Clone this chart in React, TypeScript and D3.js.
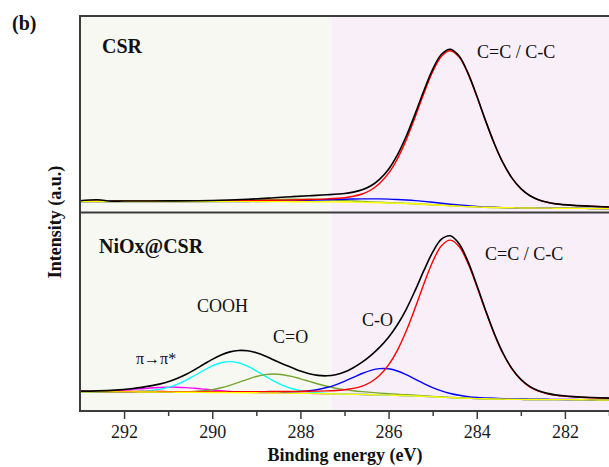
import React, { useEffect, useRef } from 'react';
import * as d3 from 'd3';

// C 1s spectra, binding energy in eV, intensity in a.u.
// CSR (top panel)
const energyCsr = [293, 292.6, 292.3, 292, 291, 290, 289.2, 288.6, 288.2, 287.8, 287.4, 287.0, 286.8, 286.6, 286.4, 286.2, 286.0, 285.8, 285.6, 285.4, 285.2, 285.0, 284.8, 284.6, 284.4, 284.2, 284.0, 283.8, 283.6, 283.4, 283.2, 283.0, 282.8, 282.6, 282.4, 282.2, 281.8, 281.4, 281.0];
const csrBackground = [10.5, 10.5, 10.5, 10.5, 10.5, 10.5, 10.4, 10.4, 10.3, 10.3, 10.2, 10.0, 9.9, 9.7, 9.5, 9.3, 9.1, 8.8, 8.5, 8.2, 7.8, 7.3, 6.8, 6.3, 5.9, 5.4, 5.1, 4.7, 4.5, 4.3, 4.2, 4.0, 4.0, 3.9, 3.9, 3.8, 3.7, 3.5, 3.3];
const csrCC = [10.8, 10.9, 10.9, 11.0, 11.1, 11.3, 11.5, 11.8, 12.0, 12.5, 13.1, 14.3, 15.7, 18.0, 22.0, 28.7, 38.8, 53.2, 72.1, 94.6, 118.4, 140.2, 155.8, 161.3, 154.9, 138.3, 115.7, 91.1, 68.1, 48.7, 33.9, 23.4, 16.5, 12.2, 9.7, 8.1, 6.6, 5.7, 5.0];
const csrCO = [10.5, 10.5, 10.5, 10.5, 10.5, 10.5, 10.5, 10.8, 11.1, 11.7, 12.3, 12.8, 13.0, 13.1, 13.1, 13.1, 12.9, 12.5, 12.0, 11.4, 10.6, 9.7, 8.7, 7.8, 7.0, 6.2, 5.6, 5.0, 4.7, 4.4, 4.2, 4.0, 4.0, 3.9, 3.9, 3.8, 3.7, 3.5, 3.3];
const csrCdO = [10.5, 10.5, 10.5, 10.5, 10.5, 10.7, 11.5, 12.4, 12.8, 12.7, 12.2, 11.4, 11.0, 10.5, 10.1, 9.7, 9.3, 9.0, 8.6, 8.3, 7.8, 7.3, 6.8, 6.3, 5.9, 5.4, 5.1, 4.7, 4.5, 4.3, 4.2, 4.0, 4.0, 3.9, 3.9, 3.8, 3.7, 3.5, 3.3];
const csrEnvelope = [11.2, 12.2, 10.9, 11.0, 11.1, 11.5, 12.7, 14.2, 15.3, 16.3, 17.2, 18.5, 19.9, 22.2, 26.2, 32.9, 42.8, 57.1, 75.7, 97.9, 121.2, 142.6, 157.7, 162.8, 156.0, 139.1, 116.2, 91.4, 68.3, 48.8, 33.9, 23.4, 16.5, 12.2, 9.7, 8.1, 6.6, 5.7, 5.0];

// NiOx@CSR (bottom panel)
const energyNi = [293, 292.6, 292.2, 291.8, 291.6, 291.4, 291.2, 291.0, 290.8, 290.6, 290.4, 290.2, 290.0, 289.8, 289.6, 289.4, 289.2, 289.0, 288.8, 288.6, 288.4, 288.2, 288.0, 287.8, 287.6, 287.4, 287.2, 287.0, 286.8, 286.6, 286.4, 286.2, 286.0, 285.8, 285.6, 285.4, 285.2, 285.0, 284.8, 284.6, 284.4, 284.2, 284.0, 283.8, 283.6, 283.4, 283.2, 283.0, 282.8, 282.6, 282.4, 282.2, 281.8, 281.4, 281.0];
const niBackground = [18.3, 18.2, 18.1, 18.1, 18.0, 18.0, 17.9, 17.9, 17.8, 17.8, 17.7, 17.6, 17.5, 17.5, 17.4, 17.3, 17.3, 17.2, 17.1, 17.0, 16.9, 16.8, 16.7, 16.6, 16.4, 16.2, 16.0, 15.9, 15.7, 15.5, 15.3, 15.1, 14.9, 14.6, 14.3, 14.0, 13.6, 13.2, 12.8, 12.4, 12.0, 11.7, 11.4, 11.2, 11.0, 10.9, 10.7, 10.6, 10.5, 10.5, 10.4, 10.4, 10.3, 10.1, 10.0];
const niCC = [18.7, 18.6, 18.5, 18.5, 18.5, 18.5, 18.5, 18.4, 18.4, 18.4, 18.4, 18.4, 18.3, 18.3, 18.3, 18.3, 18.4, 18.4, 18.4, 18.5, 18.5, 18.6, 18.7, 18.8, 18.9, 19.1, 19.5, 20.3, 21.6, 23.9, 28.0, 34.8, 45.1, 59.7, 78.9, 101.7, 126.0, 148.3, 164.3, 169.9, 163.5, 146.8, 123.8, 98.9, 75.6, 56.0, 40.9, 30.3, 23.2, 18.9, 16.3, 14.8, 13.2, 12.3, 11.8];
const niCO = [18.4, 18.3, 18.2, 18.2, 18.1, 18.1, 18.1, 18.0, 18.0, 18.0, 17.9, 17.9, 17.8, 17.7, 17.7, 17.7, 17.6, 17.7, 17.6, 17.7, 17.8, 18.0, 18.4, 19.2, 20.5, 22.5, 25.2, 28.7, 32.6, 36.5, 39.7, 41.4, 41.2, 39.0, 35.3, 30.9, 26.4, 22.4, 19.1, 16.5, 14.7, 13.4, 12.6, 12.1, 11.7, 11.4, 11.2, 11.0, 10.9, 10.8, 10.7, 10.6, 10.5, 10.3, 10.2];
const niCOOH = [18.3, 18.2, 18.2, 18.4, 18.7, 19.4, 20.6, 22.6, 25.6, 29.6, 34.5, 39.5, 44.1, 47.3, 48.4, 47.1, 43.8, 39.1, 33.9, 28.9, 24.7, 21.5, 19.4, 17.9, 17.1, 16.5, 16.1, 15.9, 15.7, 15.5, 15.3, 15.1, 14.9, 14.6, 14.3, 14.0, 13.6, 13.2, 12.8, 12.4, 12.0, 11.7, 11.4, 11.2, 11.0, 10.9, 10.7, 10.6, 10.5, 10.5, 10.4, 10.4, 10.3, 10.1, 10.0];
const niCdO = [18.3, 18.2, 18.1, 18.1, 18.0, 18.0, 17.9, 17.9, 18.0, 18.2, 18.6, 19.2, 20.4, 22.2, 24.7, 27.6, 30.7, 33.5, 35.4, 36.0, 35.3, 33.6, 31.2, 28.6, 26.0, 23.7, 21.8, 20.4, 19.3, 18.4, 17.6, 16.9, 16.3, 15.7, 15.2, 14.7, 14.1, 13.6, 13.1, 12.6, 12.1, 11.8, 11.4, 11.2, 11.0, 10.9, 10.7, 10.6, 10.5, 10.5, 10.4, 10.4, 10.3, 10.1, 10.0];
const niPi = [18.4, 18.6, 19.3, 20.6, 21.3, 22.0, 22.5, 22.8, 22.8, 22.4, 21.7, 20.9, 20.0, 19.2, 18.6, 18.0, 17.7, 17.4, 17.2, 17.1, 16.9, 16.8, 16.7, 16.6, 16.4, 16.2, 16.0, 15.9, 15.7, 15.5, 15.3, 15.1, 14.9, 14.6, 14.3, 14.0, 13.6, 13.2, 12.8, 12.4, 12.0, 11.7, 11.4, 11.2, 11.0, 10.9, 10.7, 10.6, 10.5, 10.5, 10.4, 10.4, 10.3, 10.1, 10.0];
const niEnvelope = [18.9, 19.1, 19.9, 21.5, 22.6, 24.1, 25.9, 28.3, 31.5, 35.5, 40.3, 45.5, 50.6, 55.0, 58.1, 59.5, 59.2, 57.3, 54.1, 50.0, 46.0, 42.5, 39.0, 36.3, 34.6, 34.2, 35.3, 37.9, 42.3, 47.9, 54.7, 62.9, 72.8, 85.2, 100.7, 119.3, 139.3, 157.8, 170.8, 174.2, 166.3, 148.6, 125.0, 99.8, 76.3, 56.5, 41.4, 30.7, 23.6, 19.2, 16.6, 15.0, 13.4, 12.5, 11.9];

const majorTicks = [292, 290, 288, 286, 284, 282];
const minorTicks = [291, 289, 287, 285, 283, 281];
const shadeSplit = 287.3; // boundary of the two shaded regions (eV)

const serif = '"Liberation Serif", "Times New Roman", serif';

const App: React.FC = () => {
    const ref = useRef<SVGSVGElement>(null);

    useEffect(() => {
        if (!ref.current) return;
        const svg = d3.select(ref.current);
        svg.selectAll('*').remove();

        const left = 80, right = 609;
        const top = 16, mid = 212, bottom = 410;

        const x = d3.scaleLinear().domain([293, 281]).range([left, right]);
        const yTop = d3.scaleLinear().domain([0, 196]).range([mid, top]);
        const yBot = d3.scaleLinear().domain([0, 198]).range([bottom, mid]);

        // shaded regions
        svg.append('rect')
            .attr('x', x(293)).attr('y', top)
            .attr('width', x(shadeSplit) - x(293)).attr('height', bottom - top + 1)
            .attr('fill', '#f8f8f2');
        svg.append('rect')
            .attr('x', x(shadeSplit)).attr('y', top)
            .attr('width', x(281) - x(shadeSplit)).attr('height', bottom - top + 1)
            .attr('fill', '#f9eff8');

        const drawSeries = (energy: number[], values: number[], y: d3.ScaleLinear<number, number>, color: string, width: number) => {
            const line = d3.line<number>()
                .x((_, i) => x(energy[i]))
                .y(d => y(d))
                .curve(d3.curveCatmullRom.alpha(0.5));
            svg.append('path')
                .attr('d', line(values) as string)
                .attr('fill', 'none')
                .attr('stroke', color)
                .attr('stroke-width', width)
                .attr('stroke-linejoin', 'round');
        };

        // top panel: CSR
        drawSeries(energyCsr, csrCdO, yTop, '#74a52e', 1.4);
        drawSeries(energyCsr, csrCO, yTop, '#0000ff', 1.4);
        drawSeries(energyCsr, csrCC, yTop, '#ff0000', 1.4);
        drawSeries(energyCsr, csrBackground, yTop, '#ffff00', 1.4);
        drawSeries(energyCsr, csrEnvelope, yTop, '#000000', 1.6);

        // bottom panel: NiOx@CSR
        drawSeries(energyNi, niPi, yBot, '#ff00ff', 1.4);
        drawSeries(energyNi, niCOOH, yBot, '#00ffff', 1.4);
        drawSeries(energyNi, niCdO, yBot, '#74a52e', 1.4);
        drawSeries(energyNi, niCO, yBot, '#0000ff', 1.4);
        drawSeries(energyNi, niCC, yBot, '#ff0000', 1.4);
        drawSeries(energyNi, niBackground, yBot, '#ffff00', 1.4);
        drawSeries(energyNi, niEnvelope, yBot, '#000000', 1.6);

        // frame
        const frame = '#3c3c3c';
        svg.append('line').attr('x1', left).attr('x2', right).attr('y1', top).attr('y2', top)
            .attr('stroke', frame).attr('stroke-width', 2);
        svg.append('line').attr('x1', left).attr('x2', right).attr('y1', mid + 0.5).attr('y2', mid + 0.5)
            .attr('stroke', frame).attr('stroke-width', 2);
        svg.append('line').attr('x1', left).attr('x2', left).attr('y1', top - 1).attr('y2', bottom + 2)
            .attr('stroke', frame).attr('stroke-width', 2);

        // x axis
        const axisY = bottom + 1;
        const major = svg.append('g')
            .attr('transform', `translate(0,${axisY})`)
            .call(d3.axisBottom(x).tickValues(majorTicks).tickSize(8).tickPadding(6).tickFormat(d3.format('d')));
        major.select('.domain').remove();
        major.selectAll('line').attr('stroke', frame).attr('stroke-width', 1.5);
        major.selectAll('text')
            .attr('font-family', serif).attr('font-size', 18).attr('fill', '#1a1a1a');

        const minor = svg.append('g')
            .attr('transform', `translate(0,${axisY})`)
            .call(d3.axisBottom(x).tickValues(minorTicks).tickSize(5).tickFormat(() => ''));
        minor.select('.domain').remove();
        minor.selectAll('line').attr('stroke', frame).attr('stroke-width', 1.5);

        svg.append('line').attr('x1', left - 1).attr('x2', right).attr('y1', axisY).attr('y2', axisY)
            .attr('stroke', frame).attr('stroke-width', 2);

        // titles
        svg.append('text')
            .attr('x', 345).attr('y', 461)
            .attr('text-anchor', 'middle')
            .attr('font-family', serif).attr('font-weight', 'bold').attr('font-size', 18)
            .attr('fill', '#111')
            .text('Binding energy (eV)');
        svg.append('text')
            .attr('transform', 'translate(61,222) rotate(-90)')
            .attr('text-anchor', 'middle')
            .attr('font-family', serif).attr('font-weight', 'bold').attr('font-size', 18)
            .attr('fill', '#111')
            .text('Intensity (a.u.)');

        const label = (t: string, lx: number, ly: number, size: number, bold = false) => {
            svg.append('text')
                .attr('x', lx).attr('y', ly)
                .attr('font-family', serif).attr('font-size', size)
                .attr('font-weight', bold ? 'bold' : 'normal')
                .attr('fill', '#111')
                .text(t);
        };
        label('(b)', 12, 30, 20, true);
        label('CSR', 102, 53, 20, true);
        label('NiOx@CSR', 99, 253, 20, true);
        label('C=C / C-C', 477, 58, 18);
        label('C=C / C-C', 485, 260, 18);
        label('COOH', 197, 312, 18);
        label('C=O', 273, 343, 18);
        label('C-O', 362, 326, 18);
        label('π→π*', 136, 364, 16);
    }, []);

    return (
        <svg ref={ref} width={609} height={467}
            style={{ position: 'absolute', left: 0, top: 0, background: '#ffffff' }} />
    );
};

export default App;
